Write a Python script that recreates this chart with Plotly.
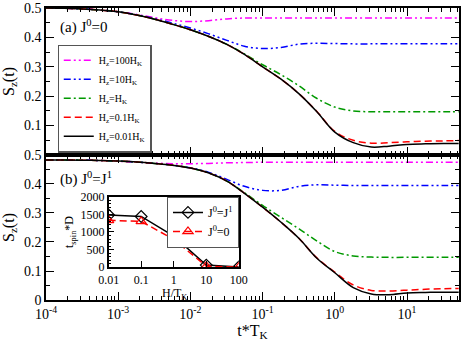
import plotly.graph_objects as go

# time axis (t*T_K)
t = [1e-4, 1.8e-4, 3.2e-4, 5.6e-4, 1e-3, 1.8e-3, 3.2e-3, 5.6e-3, 0.01, 0.018, 0.032, 0.056,
     0.1, 0.18, 0.32, 0.56, 1, 1.8, 3.2, 5.6, 10, 18, 32, 52]

# panel (a) J0 = 0
a_h100 = [0.500, 0.499, 0.497, 0.493, 0.487, 0.478, 0.467, 0.458, 0.454, 0.457, 0.463, 0.466,
          0.466, 0.466, 0.466, 0.466, 0.466, 0.466, 0.466, 0.466, 0.466, 0.466, 0.466, 0.466]
a_h10 = [0.500, 0.499, 0.497, 0.493, 0.487, 0.477, 0.464, 0.449, 0.432, 0.412, 0.390, 0.370,
         0.362, 0.366, 0.377, 0.380, 0.379, 0.378, 0.378, 0.378, 0.378, 0.378, 0.378, 0.378]
a_h1 = [0.500, 0.499, 0.497, 0.493, 0.487, 0.476, 0.462, 0.445, 0.426, 0.403, 0.376, 0.344,
        0.307, 0.273, 0.235, 0.193, 0.163, 0.150, 0.147, 0.147, 0.147, 0.147, 0.147, 0.147]
a_h01 = [0.500, 0.499, 0.497, 0.493, 0.487, 0.476, 0.462, 0.445, 0.426, 0.403, 0.376, 0.342,
         0.300, 0.258, 0.208, 0.149, 0.080, 0.050, 0.040, 0.042, 0.045, 0.047, 0.048, 0.049]
a_h001 = [0.500, 0.499, 0.497, 0.493, 0.487, 0.476, 0.462, 0.445, 0.426, 0.403, 0.376, 0.342,
          0.300, 0.258, 0.208, 0.148, 0.078, 0.042, 0.027, 0.030, 0.036, 0.038, 0.039, 0.039]

# panel (b) J0 = J1
b_h100 = [0.483, 0.483, 0.482, 0.481, 0.478, 0.475, 0.472, 0.470, 0.470, 0.471, 0.473, 0.474,
          0.475, 0.475, 0.475, 0.475, 0.475, 0.475, 0.475, 0.475, 0.475, 0.475, 0.475, 0.475]
b_h10 = [0.483, 0.483, 0.482, 0.481, 0.479, 0.476, 0.471, 0.465, 0.456, 0.440, 0.416, 0.392,
         0.378, 0.378, 0.392, 0.397, 0.396, 0.395, 0.395, 0.395, 0.395, 0.395, 0.395, 0.395]
b_h1 = [0.483, 0.483, 0.482, 0.481, 0.479, 0.476, 0.471, 0.465, 0.455, 0.438, 0.410, 0.370,
        0.326, 0.285, 0.245, 0.204, 0.167, 0.152, 0.148, 0.147, 0.147, 0.147, 0.147, 0.147]
b_h01 = [0.483, 0.483, 0.482, 0.481, 0.479, 0.476, 0.471, 0.465, 0.455, 0.438, 0.410, 0.368,
         0.320, 0.268, 0.212, 0.146, 0.096, 0.052, 0.033, 0.031, 0.034, 0.037, 0.039, 0.040]
b_h001 = [0.483, 0.483, 0.482, 0.481, 0.479, 0.476, 0.471, 0.465, 0.455, 0.438, 0.410, 0.368,
          0.320, 0.268, 0.212, 0.145, 0.094, 0.043, 0.021, 0.018, 0.024, 0.026, 0.027, 0.027]

# inset data
h_over_tk = [0.01, 0.1, 1, 10, 100]
tspin_j1 = [1480, 1440, 880, 60, 5]
tspin_j0 = [1330, 1300, 790, 30, 2]

series_names = ["H<sub>z</sub>=100H<sub>K</sub>", "H<sub>z</sub>=10H<sub>K</sub>",
                "H<sub>z</sub>=H<sub>K</sub>", "H<sub>z</sub>=0.1H<sub>K</sub>",
                "H<sub>z</sub>=0.01H<sub>K</sub>"]
x_tickvals = [1e-4, 1e-3, 1e-2, 1e-1, 1, 10]
x_ticktext = ["10<sup>-4</sup>", "10<sup>-3</sup>", "10<sup>-2</sup>", "10<sup>-1</sup>",
              "10<sup>0</sup>", "10<sup>1</sup>"]

styles = [
    dict(color="#ff00ff", dash="7px,3px,2px,3px,2px,3px"),
    dict(color="#0000ff", dash="7px,3px,2px,3px,2px,3px"),
    dict(color="#009900", dash="7px,3px,2px,3px"),
    dict(color="#ff0000", dash="7px,4px"),
    dict(color="#000000", dash="solid"),
]

FONT = "Liberation Serif, Times New Roman, serif"
fig = go.Figure()

top_sets = [a_h100, a_h10, a_h1, a_h01, a_h001]
bot_sets = [b_h100, b_h10, b_h1, b_h01, b_h001]
for name, ys, st in zip(series_names, top_sets, styles):
    fig.add_trace(go.Scatter(x=t, y=ys, mode="lines", name=name, xaxis="x2", yaxis="y2",
                             line=dict(color=st["color"], dash=st["dash"], width=1.5, shape="spline"),
                             legend="legend"))
for name, ys, st in zip(series_names, bot_sets, styles):
    fig.add_trace(go.Scatter(x=t, y=ys, mode="lines", name=name, xaxis="x", yaxis="y",
                             showlegend=False,
                             line=dict(color=st["color"], dash=st["dash"], width=1.5, shape="spline")))

fig.add_trace(go.Scatter(x=h_over_tk, y=tspin_j1, mode="lines+markers", name="J<sup>0</sup>=J<sup>1</sup>",
                         xaxis="x3", yaxis="y3", legend="legend2",
                         line=dict(color="black", width=1.5),
                         marker=dict(symbol="diamond-open", size=9, color="black", line=dict(width=1.2))))
fig.add_trace(go.Scatter(x=h_over_tk, y=tspin_j0, mode="lines+markers", name="J<sup>0</sup>=0",
                         xaxis="x3", yaxis="y3", legend="legend2",
                         line=dict(color="red", width=1.5, dash="7px,4px"),
                         marker=dict(symbol="triangle-up-open", size=9, color="red", line=dict(width=1.2))))

ax_common = dict(showline=True, linecolor="black", linewidth=1.5, mirror="ticks", ticks="inside",
                 tickcolor="black", showgrid=False, zeroline=False,
                 tickfont=dict(family=FONT, size=14, color="black"))

split = 146 / 294
fig.update_layout(
    width=469, height=346,
    margin=dict(l=46, r=1, t=6, b=46),
    paper_bgcolor="white", plot_bgcolor="white",
    font=dict(family=FONT, color="black"),
    xaxis=dict(type="log", range=[-4, 1.72], anchor="y", tickvals=x_tickvals, ticktext=x_ticktext,
               ticklen=8, minor=dict(ticks="inside", ticklen=4, dtick="D1", tickcolor="black"),
               title=dict(text="t*T<sub>K</sub>", font=dict(family=FONT, size=16), standoff=2),
               **ax_common),
    xaxis2=dict(type="log", range=[-4, 1.72], anchor="y2", matches="x", tickvals=x_tickvals,
                showticklabels=False, ticklen=8,
                minor=dict(ticks="inside", ticklen=4, dtick="D1", tickcolor="black"), **ax_common),
    yaxis=dict(domain=[0, split], range=[0, 0.5], anchor="x", tickvals=[0, 0.1, 0.2, 0.3, 0.4, 0.5],
               ticklen=8, minor=dict(ticks="inside", ticklen=4, dtick=0.05, tickcolor="black"),
               title=dict(text="S<sub>z</sub>(t)", font=dict(family=FONT, size=16), standoff=6),
               **ax_common),
    yaxis2=dict(domain=[split, 1], range=[0, 0.5], anchor="x2", tickvals=[0.1, 0.2, 0.3, 0.4, 0.5],
                ticklen=8, minor=dict(ticks="inside", ticklen=4, dtick=0.05, tickcolor="black"),
                title=dict(text="S<sub>z</sub>(t)", font=dict(family=FONT, size=16), standoff=6),
                **ax_common),
    xaxis3=dict(type="log", domain=[0.1517, 0.4668], range=[-2, 2], anchor="y3",
                tickvals=[0.01, 0.1, 1, 10, 100], ticktext=["0.01", "0.1", "1", "10", "100"],
                showline=True, linecolor="black", linewidth=1.5, mirror=True, ticks="inside", ticklen=6,
                tickcolor="black", showgrid=False, zeroline=False, ticklabelstandoff=1,
                tickfont=dict(family=FONT, size=12, color="black")),
    yaxis3=dict(domain=[0.1122, 0.3537], range=[0, 2000], anchor="x3",
                tickvals=[0, 500, 1000, 1500, 2000],
                minor=dict(ticks="inside", ticklen=3, dtick=100, tickcolor="black"),
                showline=True, linecolor="black", linewidth=1.5, mirror=True, ticks="inside", ticklen=6,
                tickcolor="black", showgrid=False, zeroline=False,
                tickfont=dict(family=FONT, size=12, color="black"),
                title=dict(text="t<sub>spin</sub>*D", font=dict(family=FONT, size=12), standoff=4)),
    legend=dict(x=0.028, y=0.875, xanchor="left", yanchor="top", bgcolor="white",
                bordercolor="#555555", borderwidth=1.2, font=dict(family=FONT, size=10),
                tracegroupgap=0, itemwidth=30),
    legend2=dict(x=0.4668, y=0.3537, xanchor="right", yanchor="top", bgcolor="white",
                 bordercolor="#555555", borderwidth=1.2, font=dict(family=FONT, size=12),
                 tracegroupgap=0, itemwidth=30),
    annotations=[
        dict(text="(a) J<sup>0</sup>=0", xref="paper", yref="paper", x=0.03, y=0.935,
             xanchor="left", yanchor="middle", showarrow=False, font=dict(family=FONT, size=15)),
        dict(text="(b) J<sup>0</sup>=J<sup>1</sup>", xref="paper", yref="paper", x=0.03, y=0.415,
             xanchor="left", yanchor="middle", showarrow=False, font=dict(family=FONT, size=15)),
        dict(text="H/T<sub>K</sub>", xref="paper", yref="paper", x=0.31, y=0.02,
             xanchor="center", yanchor="middle", showarrow=False, font=dict(family=FONT, size=12)),
    ],
)

fig.write_html("out.html", config={"displayModeBar": False},
               post_script="document.body.style.margin='0';")
